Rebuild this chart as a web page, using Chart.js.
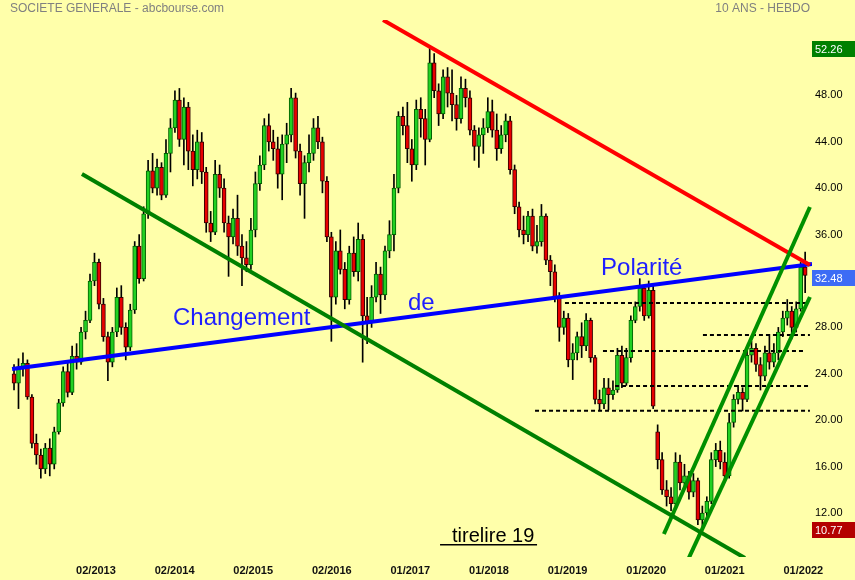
<!DOCTYPE html>
<html lang="fr">
<head>
  <meta charset="UTF-8">
  <title>Société Générale - 10 ans hebdo</title>
  <script src="https://cdn.jsdelivr.net/npm/chart.js"></script>
  <style>
    html, body { margin: 0; padding: 0; background: #FFFFAA; }
    canvas { display: block; }
  </style>
</head>
<body>
  <canvas id="socgen" width="855" height="580"></canvas>

  <script>
    // une bougie toutes les 3 semaines
    const weekStep = 3;

    const open = [
      24.0, 23.2, 24.6, 24.9, 22.0, 18.0, 17.0, 15.8, 17.6, 16.2,
      19.0, 21.5, 24.2, 22.4, 25.5, 25.0, 27.6, 28.6, 32.0, 33.6,
      30.0, 27.2, 25.0, 27.6, 30.6, 28.0, 26.3, 29.5, 35.0, 32.2,
      37.8, 41.5, 40.0, 41.8, 39.4, 43.0, 45.2, 47.6, 44.2, 47.0,
      43.2, 41.6, 44.0, 41.4, 37.0, 36.2, 41.2, 40.0, 37.0, 35.8,
      37.4, 35.0, 34.0, 33.4, 36.4, 40.4, 42.0, 45.4, 44.0, 43.4,
      41.2, 43.8, 44.6, 47.8, 43.2, 40.4, 42.2, 43.0, 45.2, 44.0,
      40.6, 35.8, 30.6, 34.6, 33.0, 30.4, 34.4, 32.8, 35.6, 29.0,
      28.4, 30.6, 32.6, 30.8, 34.6, 36.0, 40.0, 46.2, 45.4, 43.4,
      42.0, 46.8, 46.0, 44.2, 50.8, 48.4, 46.4, 49.6, 48.2, 47.2,
      46.0, 48.6, 47.8, 45.0, 43.6, 44.6, 45.2, 46.6, 45.0, 43.4,
      44.6, 45.8, 41.6, 38.4, 36.4, 36.0, 37.6, 35.0, 35.4, 37.6,
      33.8, 32.8, 30.6, 28.0, 28.8, 25.2, 25.8, 27.2, 26.4, 28.6,
      25.4, 21.8, 21.4, 22.8, 22.2, 22.6, 25.6, 23.2, 25.4, 28.6,
      29.8, 31.4, 29.0, 31.2, 19.0, 16.6, 14.0, 13.4, 12.8, 16.4,
      14.6, 15.2, 13.8, 14.8, 11.4, 12.0, 13.0, 16.6, 17.4, 16.4,
      15.2, 19.8, 21.8, 22.4, 21.8, 25.6, 26.2, 24.8, 23.8, 25.8,
      25.0, 25.8, 27.6, 28.8, 29.4, 28.0, 29.6, 33.2
    ];
    const high = [
      24.8, 25.3, 25.8, 25.2, 22.2, 18.8, 17.5, 18.0, 18.4, 19.4,
      21.8, 24.6, 25.0, 26.4, 26.6, 28.0, 29.4, 32.6, 34.4, 33.9,
      30.5, 27.6, 28.0, 31.4, 31.6, 28.4, 30.0, 35.4, 36.0, 38.4,
      42.4, 43.0, 42.5, 42.2, 44.2, 46.0, 48.4, 48.6, 47.8, 47.4,
      44.6, 45.0, 44.8, 41.8, 38.0, 42.4, 42.0, 40.8, 37.6, 38.2,
      39.4, 36.0, 35.4, 37.4, 41.4, 42.8, 46.0, 46.4, 45.0, 44.4,
      44.6, 45.6, 48.6, 48.2, 43.8, 42.8, 44.6, 46.0, 46.2, 44.4,
      41.0, 36.2, 35.4, 36.4, 33.6, 35.0, 35.8, 37.0, 36.0, 30.6,
      31.6, 33.6, 33.2, 35.0, 37.2, 41.2, 46.6, 47.0, 47.4, 44.2,
      47.6, 47.8, 46.8, 52.26, 51.6, 49.0, 50.2, 50.4, 50.2, 48.0,
      49.6, 49.4, 48.4, 45.4, 45.2, 46.0, 47.8, 47.6, 46.4, 45.4,
      46.4, 46.2, 42.0, 38.8, 37.6, 38.0, 38.2, 36.8, 38.6, 37.8,
      34.2, 33.4, 31.0, 29.4, 29.2, 26.6, 27.6, 28.4, 29.2, 28.8,
      25.6, 22.6, 23.6, 23.6, 23.4, 26.2, 26.4, 26.2, 29.0, 30.2,
      32.2, 31.6, 32.0, 31.6, 19.6, 17.2, 14.8, 14.2, 17.2, 17.0,
      16.2, 15.6, 15.4, 15.0, 12.6, 13.4, 17.2, 18.0, 18.2, 17.2,
      20.6, 22.2, 23.0, 22.8, 26.2, 26.8, 26.6, 25.4, 26.4, 27.4,
      26.6, 28.0, 29.4, 30.4, 29.8, 30.2, 33.6, 34.5
    ];
    const low = [
      22.6, 21.0, 23.8, 21.8, 17.6, 16.2, 15.0, 15.4, 15.2, 15.8,
      18.8, 21.2, 22.0, 22.2, 24.4, 24.8, 27.0, 28.4, 31.6, 29.6,
      26.8, 23.4, 24.6, 27.2, 27.4, 25.2, 26.0, 29.2, 31.8, 32.0,
      37.4, 39.6, 39.4, 39.0, 39.2, 41.4, 44.8, 43.6, 42.0, 41.6,
      40.2, 40.8, 40.4, 36.2, 35.4, 36.0, 39.2, 36.2, 32.4, 35.2,
      34.2, 31.6, 32.8, 33.0, 35.8, 39.8, 41.6, 43.2, 42.4, 40.0,
      39.0, 42.2, 44.0, 42.6, 39.4, 37.4, 41.4, 42.4, 43.4, 39.6,
      35.4, 26.8, 30.0, 32.6, 29.6, 30.0, 32.4, 32.0, 25.0, 26.6,
      28.0, 30.2, 29.2, 30.4, 34.0, 34.6, 39.6, 44.6, 42.2, 40.6,
      41.6, 44.4, 42.0, 44.0, 47.8, 45.4, 46.0, 47.0, 45.8, 45.0,
      45.6, 47.0, 44.6, 42.4, 41.8, 43.0, 44.8, 44.4, 42.4, 43.0,
      44.0, 41.2, 37.8, 35.8, 35.2, 35.4, 34.6, 34.4, 35.0, 33.4,
      31.6, 30.2, 26.8, 27.4, 24.6, 23.5, 25.2, 25.4, 26.0, 25.0,
      21.4, 20.8, 21.0, 20.9, 21.8, 22.4, 22.8, 23.0, 25.0, 28.4,
      29.4, 28.6, 28.8, 21.0, 15.8, 13.6, 12.6, 12.2, 12.6, 14.0,
      14.2, 13.2, 13.4, 11.0, 10.77, 11.6, 12.8, 16.0, 15.8, 14.8,
      15.0, 19.4, 21.4, 20.8, 21.6, 25.0, 24.2, 22.6, 23.4, 24.4,
      24.6, 25.2, 27.2, 28.2, 27.0, 27.6, 29.4, 31.0
    ];
    const close = [
      23.2, 24.6, 24.9, 22.0, 18.0, 17.0, 15.8, 17.6, 16.2, 19.0,
      21.5, 24.2, 22.4, 25.5, 25.0, 27.6, 28.6, 32.0, 33.6, 30.0,
      27.2, 25.0, 27.6, 30.6, 28.0, 26.3, 29.5, 35.0, 32.2, 37.8,
      41.5, 40.0, 41.8, 39.4, 43.0, 45.2, 47.6, 44.2, 47.0, 43.2,
      41.6, 44.0, 41.4, 37.0, 36.2, 41.2, 40.0, 37.0, 35.8, 37.4,
      35.0, 34.0, 33.4, 36.4, 40.4, 42.0, 45.4, 44.0, 43.4, 41.2,
      43.8, 44.6, 47.8, 43.2, 40.4, 42.2, 43.0, 45.2, 44.0, 40.6,
      35.8, 30.6, 34.6, 33.0, 30.4, 34.4, 32.8, 35.6, 29.0, 28.4,
      30.6, 32.6, 30.8, 34.6, 36.0, 40.0, 46.2, 45.4, 43.4, 42.0,
      46.8, 46.0, 44.2, 50.8, 48.4, 46.4, 49.6, 48.2, 47.2, 46.0,
      48.6, 47.8, 45.0, 43.6, 44.6, 45.2, 46.6, 45.0, 43.4, 44.6,
      45.8, 41.6, 38.4, 36.4, 36.0, 37.6, 35.0, 35.4, 37.6, 33.8,
      32.8, 30.6, 28.0, 28.8, 25.2, 25.8, 27.2, 26.4, 28.6, 25.4,
      21.8, 21.4, 22.8, 22.2, 22.6, 25.6, 23.2, 25.4, 28.6, 29.8,
      31.4, 29.0, 31.2, 21.2, 16.6, 14.0, 13.4, 12.8, 16.4, 14.6,
      15.2, 13.8, 14.8, 11.4, 12.0, 13.0, 16.6, 17.4, 16.4, 15.2,
      19.8, 21.8, 22.4, 21.8, 25.6, 26.2, 24.8, 23.8, 25.8, 25.0,
      25.8, 27.6, 28.8, 29.4, 28.0, 29.6, 33.2, 32.48
    ];

    // axe des temps (en semaines depuis le début)
    const tickWeeks = [55, 107.8, 160.5, 213.3, 266, 318.8, 371.5, 424.3, 477, 529.8];
    const tickLabels = ['02/2013', '02/2014', '02/2015', '02/2016', '01/2017',
                        '01/2018', '01/2019', '01/2020', '01/2021', '01/2022'];
    const priceTicks = [12, 16, 20, 24, 28, 32, 36, 40, 44, 48];

    // droites tracées : [semaine, cours]
    const polarityLine = [[-1.3, 24.41], [535.6, 33.47]];
    const resistanceLine = [[247.7, 54.5], [534.2, 33.38]];
    const downTrend = [[45.6, 41.22], [490.6, 8.12]];
    const channelTop = [[436.2, 10.19], [534.2, 38.38]];
    const channelBottom = [[452.3, 7.95], [534.2, 30.62]];
    // supports horizontaux : [début, fin, cours]
    const supports = [
      [369.8, 534.2, 30.10],
      [462.4, 534.2, 27.34],
      [395.3, 531.5, 25.97],
      [403.4, 534.2, 22.95],
      [349.7, 534.2, 20.82]
    ];

    const wicks = low.map((l, i) => ({ x: i * weekStep, y: [l, high[i]] }));
    const bodies = open.map((o, i) => ({ x: i * weekStep, y: [o, close[i]] }));
    const isUp = i => close[i] >= open[i];

    const toPts = seg => seg.map(p => ({ x: p[0], y: p[1] }));
    const lineSet = (seg, color, width, dash) => ({
      type: 'line',
      data: toPts(seg),
      borderColor: color,
      borderWidth: width,
      borderDash: dash || [],
      pointRadius: 0,
      fill: false,
      order: 0
    });

    const lastClose = close[close.length - 1];
    const priceFlags = [
      [Math.max(...high), '#008000'],
      [lastClose, '#3D6CF5'],
      [Math.min(...low), '#B40000']
    ];

    const decor = {
      id: 'decor',
      beforeDraw(chart) {
        const c = chart.ctx;
        c.save();
        c.fillStyle = '#FFFFAA';
        c.fillRect(0, 0, chart.width, chart.height);
        c.restore();
      },
      afterDatasetsDraw(chart) {
        const c = chart.ctx, x = chart.scales.x, y = chart.scales.y;
        c.save();
        c.font = '24px Arial';
        c.fillStyle = '#1E1EFF';
        c.textBaseline = 'alphabetic';
        c.fillText('Changement', x.getPixelForValue(106.7), y.getPixelForValue(28.21));
        c.fillText('de', x.getPixelForValue(264.4), y.getPixelForValue(29.5));
        c.fillText('Polarité', x.getPixelForValue(394), y.getPixelForValue(32.52));

        c.font = '20px Arial';
        c.fillStyle = '#000';
        const tx = x.getPixelForValue(294), ty = y.getPixelForValue(9.5);
        c.fillText('tirelire 19', tx, ty);
        c.fillRect(tx - 12, ty + 2, 97, 1.5);
        c.restore();
      },
      afterDraw(chart) {
        const c = chart.ctx, y = chart.scales.y, left = chart.chartArea.right;
        c.save();
        c.font = '12px Arial';
        c.fillStyle = '#808080';
        c.textBaseline = 'middle';
        c.fillText('SOCIETE GENERALE - abcbourse.com', 10, 9);
        c.textAlign = 'right';
        c.fillText('10 ANS - HEBDO', 810, 9);

        c.textAlign = 'left';
        c.font = '11px Arial';
        priceFlags.forEach(([v, color]) => {
          const py = Math.round(y.getPixelForValue(v)) + 3;
          c.fillStyle = color;
          c.fillRect(left, py - 8, chart.width - left, 16);
          c.fillStyle = '#fff';
          c.fillText(v.toFixed(2), left + 3, py + 0.5);
        });
        c.restore();
      }
    };

    const datasets = [
      {
        type: 'bar',
        data: wicks,
        backgroundColor: '#000',
        barThickness: 1,
        grouped: false,
        order: 3
      },
      {
        type: 'bar',
        data: bodies,
        backgroundColor: ctx => isUp(ctx.dataIndex) ? '#22D022' : '#E80000',
        borderColor: ctx => isUp(ctx.dataIndex) ? '#006000' : '#300000',
        borderWidth: 1,
        borderSkipped: false,
        barThickness: 4,
        minBarLength: 1,
        grouped: false,
        order: 2
      },
      lineSet(downTrend, '#008000', 4),
      lineSet(channelTop, '#009000', 4),
      lineSet(channelBottom, '#009000', 4),
      lineSet(resistanceLine, '#FF0000', 4),
      lineSet(polarityLine, '#0000FF', 4)
    ];
    supports.forEach(s => {
      datasets.push(lineSet([[s[0], s[2]], [s[1], s[2]]], '#000', 2, [4, 3]));
    });

    new Chart(document.getElementById('socgen'), {
      type: 'bar',
      data: { datasets },
      options: {
        responsive: false,
        animation: false,
        layout: { padding: { left: 10, top: 20, right: 0, bottom: 0 } },
        plugins: { legend: { display: false }, tooltip: { enabled: false } },
        scales: {
          x: {
            type: 'linear',
            min: -2.7,
            max: 535.6,
            offset: false,
            grid: { display: false, drawTicks: false },
            border: { display: false },
            afterBuildTicks: s => { s.ticks = tickWeeks.map(v => ({ value: v })); },
            afterFit: s => { s.height = 23; },
            ticks: {
              autoSkip: false,
              maxRotation: 0,
              padding: 7,
              color: '#111',
              font: { family: 'Arial', size: 11, weight: 'bold' },
              callback: (v, i) => tickLabels[i]
            }
          },
          y: {
            position: 'right',
            min: 8.207,
            max: 54.5,
            grid: { display: false, drawTicks: false },
            border: { display: false },
            afterBuildTicks: s => { s.ticks = priceTicks.map(v => ({ value: v })); },
            afterFit: s => { s.width = 43; },
            ticks: {
              padding: 3,
              color: '#000',
              font: { family: 'Arial', size: 11 },
              callback: v => v.toFixed(2)
            }
          }
        }
      },
      plugins: [decor]
    });
  </script>
</body>
</html>
